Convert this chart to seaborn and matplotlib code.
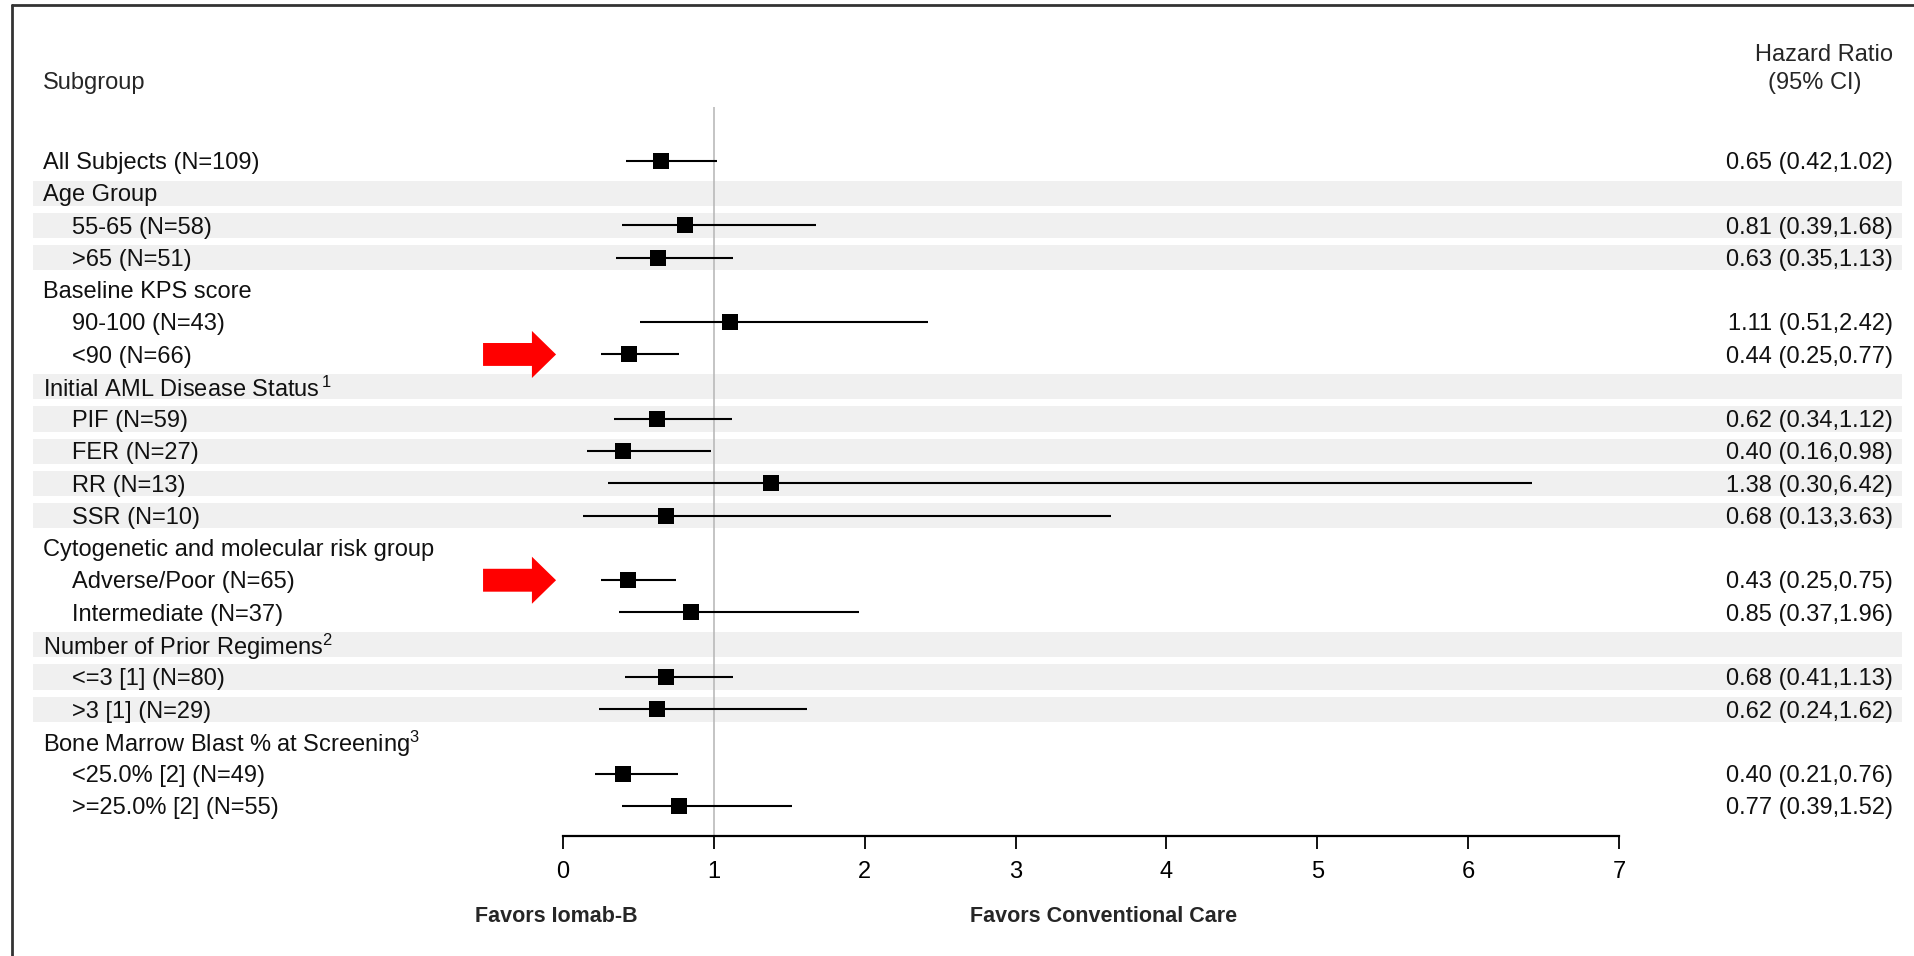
import numpy as np
import pandas as pd
import matplotlib
matplotlib.use("Agg")
import matplotlib.pyplot as plt
import seaborn as sns

# ---- data ----
labels = [
    "All Subjects (N=109)",
    "Age Group", "55-65 (N=58)", ">65 (N=51)",
    "Baseline KPS score", "90-100 (N=43)", "<90 (N=66)",
    r"Initial AML Disease Status$^{\,1}$", "PIF (N=59)", "FER (N=27)", "RR (N=13)", "SSR (N=10)",
    "Cytogenetic and molecular risk group", "Adverse/Poor (N=65)", "Intermediate (N=37)",
    r"Number of Prior Regimens$^{2}$", "<=3 [1] (N=80)", ">3 [1] (N=29)",
    r"Bone Marrow Blast % at Screening$^{3}$", "<25.0% [2] (N=49)", ">=25.0% [2] (N=55)",
]
indent = [0, 0, 1, 1, 0, 1, 1, 0, 1, 1, 1, 1, 0, 1, 1, 0, 1, 1, 0, 1, 1]
shaded = [0, 1, 1, 1, 0, 0, 0, 1, 1, 1, 1, 1, 0, 0, 0, 1, 1, 1, 0, 0, 0]
hr = [0.65, np.nan, 0.81, 0.63, np.nan, 1.11, 0.44, np.nan, 0.62, 0.40, 1.38, 0.68,
      np.nan, 0.43, 0.85, np.nan, 0.68, 0.62, np.nan, 0.40, 0.77]
lo = [0.42, np.nan, 0.39, 0.35, np.nan, 0.51, 0.25, np.nan, 0.34, 0.16, 0.30, 0.13,
      np.nan, 0.25, 0.37, np.nan, 0.41, 0.24, np.nan, 0.21, 0.39]
hi = [1.02, np.nan, 1.68, 1.13, np.nan, 2.42, 0.77, np.nan, 1.12, 0.98, 6.42, 3.63,
      np.nan, 0.75, 1.96, np.nan, 1.13, 1.62, np.nan, 0.76, 1.52]
arrow_rows = ["<90 (N=66)", "Adverse/Poor (N=65)"]
xticks = [0, 1, 2, 3, 4, 5, 6, 7]

df = pd.DataFrame({"label": labels, "indent": indent, "shaded": shaded,
                   "hr": hr, "lo": lo, "hi": hi})
df["row"] = np.arange(len(df))
pts = df.dropna(subset=["hr"])

sns.set_theme(style="white")
plt.rcParams["font.family"] = ["Liberation Sans", "DejaVu Sans"]
plt.rcParams["mathtext.fontset"] = "custom"
plt.rcParams["mathtext.rm"] = "Liberation Sans"
plt.rcParams["mathtext.it"] = "Liberation Sans"

W, H = 1914, 956
fig = plt.figure(figsize=(W / 100, H / 100), dpi=100)
ax = fig.add_axes([0, 1 - 836 / H, 1, 836 / H])

unit = (1619 - 563) / 7
ax.set_xlim(-563 / unit, (W - 563) / unit)
ax.set_ylim(20.93, -4.99)

# alternating group bands
for i in df.index[df["shaded"] == 1]:
    ax.axhspan(i - 0.39, i + 0.39, xmin=33 / W, xmax=1902 / W,
               color="#f0f0f0", lw=0, zorder=0)

# reference line at HR = 1
ax.vlines(1, -1.67, 20.93, color="#b4b4b4", lw=1.1, zorder=1)

# confidence intervals and point estimates
ax.hlines(pts["row"], pts["lo"], pts["hi"], color="black", lw=1.5, zorder=3)
sns.scatterplot(data=pts, x="hr", y="row", marker="s", s=138, color="black",
                linewidth=0, ax=ax, zorder=4)

# red arrows
for lab in arrow_rows:
    r = df.index[df["label"] == lab][0]
    ax.arrow(-0.53, r, 0.484, 0, width=0.71, head_width=1.46, head_length=0.16,
             length_includes_head=True, color="#ff0000", lw=0, zorder=5)

# left labels and right HR text
ytr = ax.get_yaxis_transform()
dy = 0.07
for _, d in df.iterrows():
    xpos = 72 / W if d["indent"] else 43 / W
    ax.text(xpos, d["row"] + dy, d["label"], transform=ytr, ha="left", va="center",
            fontsize=17, color="#111111")
    if not np.isnan(d["hr"]):
        ax.text(1893 / W, d["row"] + dy, f"{d['hr']:.2f} ({d['lo']:.2f},{d['hi']:.2f})",
                transform=ytr, ha="right", va="center", fontsize=17, color="#111111")

ax.text(43 / W, -2.42, "Subgroup", transform=ytr, ha="left", va="center", fontsize=17)
ax.text(1893 / W, -3.29, "Hazard Ratio", transform=ytr, ha="right", va="center", fontsize=17)
ax.text(1815 / W, -2.42, "(95% CI)", transform=ytr, ha="center", va="center", fontsize=17)

# axis
for s in ["top", "left", "right"]:
    ax.spines[s].set_visible(False)
ax.spines["bottom"].set_bounds(0, 7)
ax.spines["bottom"].set_linewidth(1.6)
ax.spines["bottom"].set_color("black")
ax.set_xticks(xticks)
ax.set_yticks([])
ax.tick_params(axis="x", bottom=True, direction="out", length=9, width=1.3,
               pad=9, labelsize=17, colors="black")
ax.set_xlabel("")
ax.set_ylabel("")
ax.set_facecolor("none")

fig.text(475 / W, 1 - 917 / H, "Favors Iomab-B", ha="left", va="center",
         fontsize=15.5, fontweight="bold")
fig.text(970 / W, 1 - 917 / H, "Favors Conventional Care", ha="left", va="center",
         fontsize=15.5, fontweight="bold")

# frame (left and top edges visible)
fig.add_artist(plt.Line2D([12 / W, 12 / W], [0, 1 - 5 / H], color="#333333", lw=2))
fig.add_artist(plt.Line2D([12 / W, 1], [1 - 5 / H, 1 - 5 / H], color="#333333", lw=2))

fig.savefig("out.png", dpi=100)
